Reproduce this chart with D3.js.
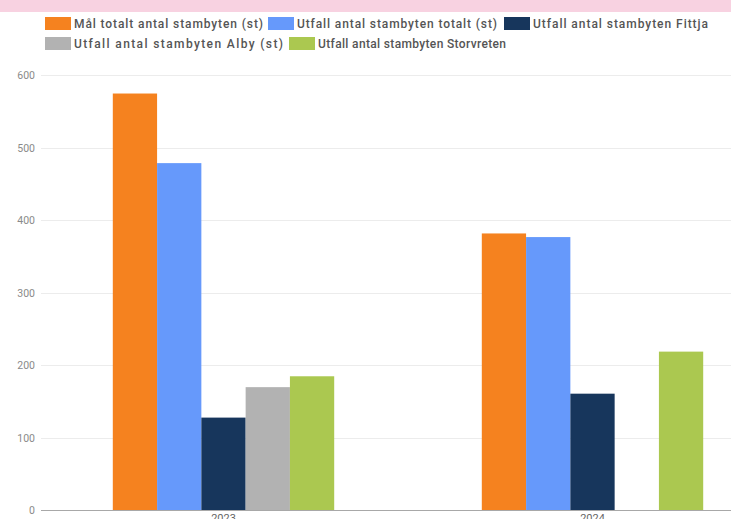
<!DOCTYPE html>
<html>
<head>
<meta charset="utf-8">
<script src="https://cdn.jsdelivr.net/npm/d3@7"></script>
<style>
  body { margin: 0; background: #fff; overflow: hidden; }
  svg { display: block; font-family: Roboto, "Noto Sans", sans-serif; }
</style>
</head>
<body>
<div id="chart"></div>
<script>
const years = ["2023", "2024"];
const seriesNames = [
  "Mål totalt antal stambyten (st)",
  "Utfall antal stambyten totalt (st)",
  "Utfall antal stambyten Fittja",
  "Utfall antal stambyten Alby (st)",
  "Utfall antal stambyten Storvreten"
];
const seriesColors = ["#f5821f", "#6699fb", "#17365c", "#b2b2b2", "#abc850"];
// values per series, one per year (null = no bar)
const malTotalt = [575, 382];
const utfallTotalt = [479, 377];
const utfallFittja = [128, 161];
const utfallAlby = [170, null];
const utfallStorvreten = [185, 219];
const yTicks = [0, 100, 200, 300, 400, 500, 600];

const seriesValues = [malTotalt, utfallTotalt, utfallFittja, utfallAlby, utfallStorvreten];

const w = 731, h = 519;
const margin = { top: 75, right: -46, bottom: 8, left: 39 };

const svg = d3.select("#chart").append("svg")
    .attr("width", w)
    .attr("height", h);

// pink band on top
svg.append("rect")
    .attr("x", 0).attr("y", 0)
    .attr("width", w).attr("height", 12)
    .attr("fill", "#f8d2e1");

const x0 = d3.scaleBand()
    .domain(years)
    .range([margin.left, w - margin.right])
    .paddingInner(0.4)
    .paddingOuter(0.2);

const x1 = d3.scaleBand()
    .domain(d3.range(seriesNames.length))
    .range([0, x0.bandwidth()]);

const y = d3.scaleLinear()
    .domain([0, 600])
    .range([h - margin.bottom - 0.6, margin.top + 0.4]);

// grid
svg.append("g")
    .selectAll("line")
    .data(yTicks.filter(d => d > 0))
    .join("line")
    .attr("x1", margin.left + 2)
    .attr("x2", w)
    .attr("y1", d => Math.round(y(d)) + 0.5)
    .attr("y2", d => Math.round(y(d)) + 0.5)
    .attr("stroke", "#ececec");

// y labels
svg.append("g")
    .selectAll("text")
    .data(yTicks)
    .join("text")
    .attr("x", 35)
    .attr("y", d => y(d) + 4)
    .attr("text-anchor", "end")
    .attr("font-size", 10.5)
    .attr("fill", "#8a8a8a")
    .text(d => d);

// bars
const groups = svg.append("g")
    .selectAll("g")
    .data(years)
    .join("g")
    .attr("transform", d => `translate(${x0(d)},0)`);

groups.selectAll("rect")
    .data((yr, yi) => seriesValues.map((vals, si) => ({ si, v: vals[yi] })).filter(d => d.v != null))
    .join("rect")
    .attr("x", d => x1(d.si))
    .attr("width", x1.bandwidth())
    .attr("y", d => y(d.v))
    .attr("height", d => y(0) - y(d.v))
    .attr("fill", d => seriesColors[d.si]);

// x axis line
svg.append("line")
    .attr("x1", margin.left + 2)
    .attr("x2", w)
    .attr("y1", Math.round(y(0)) + 0.5)
    .attr("y2", Math.round(y(0)) + 0.5)
    .attr("stroke", "#a8a8a8");

svg.append("g")
    .selectAll("text")
    .data(years)
    .join("text")
    .attr("x", d => x0(d) + x0.bandwidth() / 2)
    .attr("y", h + 3)
    .attr("text-anchor", "middle")
    .attr("font-size", 11)
    .attr("fill", "#666")
    .text(d => d);

// legend
const legendPos = [
  { x: 45, y: 17, tw: 189 }, { x: 268, y: 17, tw: 200 }, { x: 504, y: 17, tw: 175 },
  { x: 45, y: 37, tw: 209 }, { x: 289, y: 37, tw: 188 }
];
const legend = svg.append("g")
    .selectAll("g")
    .data(seriesNames)
    .join("g")
    .attr("transform", (d, i) => `translate(${legendPos[i].x},${legendPos[i].y})`);

legend.append("rect")
    .attr("width", 26)
    .attr("height", 13)
    .attr("fill", (d, i) => seriesColors[i]);

legend.append("text")
    .attr("x", 29)
    .attr("y", 10.5)
    .attr("font-size", 12)
    .attr("font-weight", 500)
    .attr("fill", "#555")
    .attr("textLength", (d, i) => legendPos[i].tw)
    .attr("lengthAdjust", "spacing")
    .text(d => d);
</script>
</body>
</html>
